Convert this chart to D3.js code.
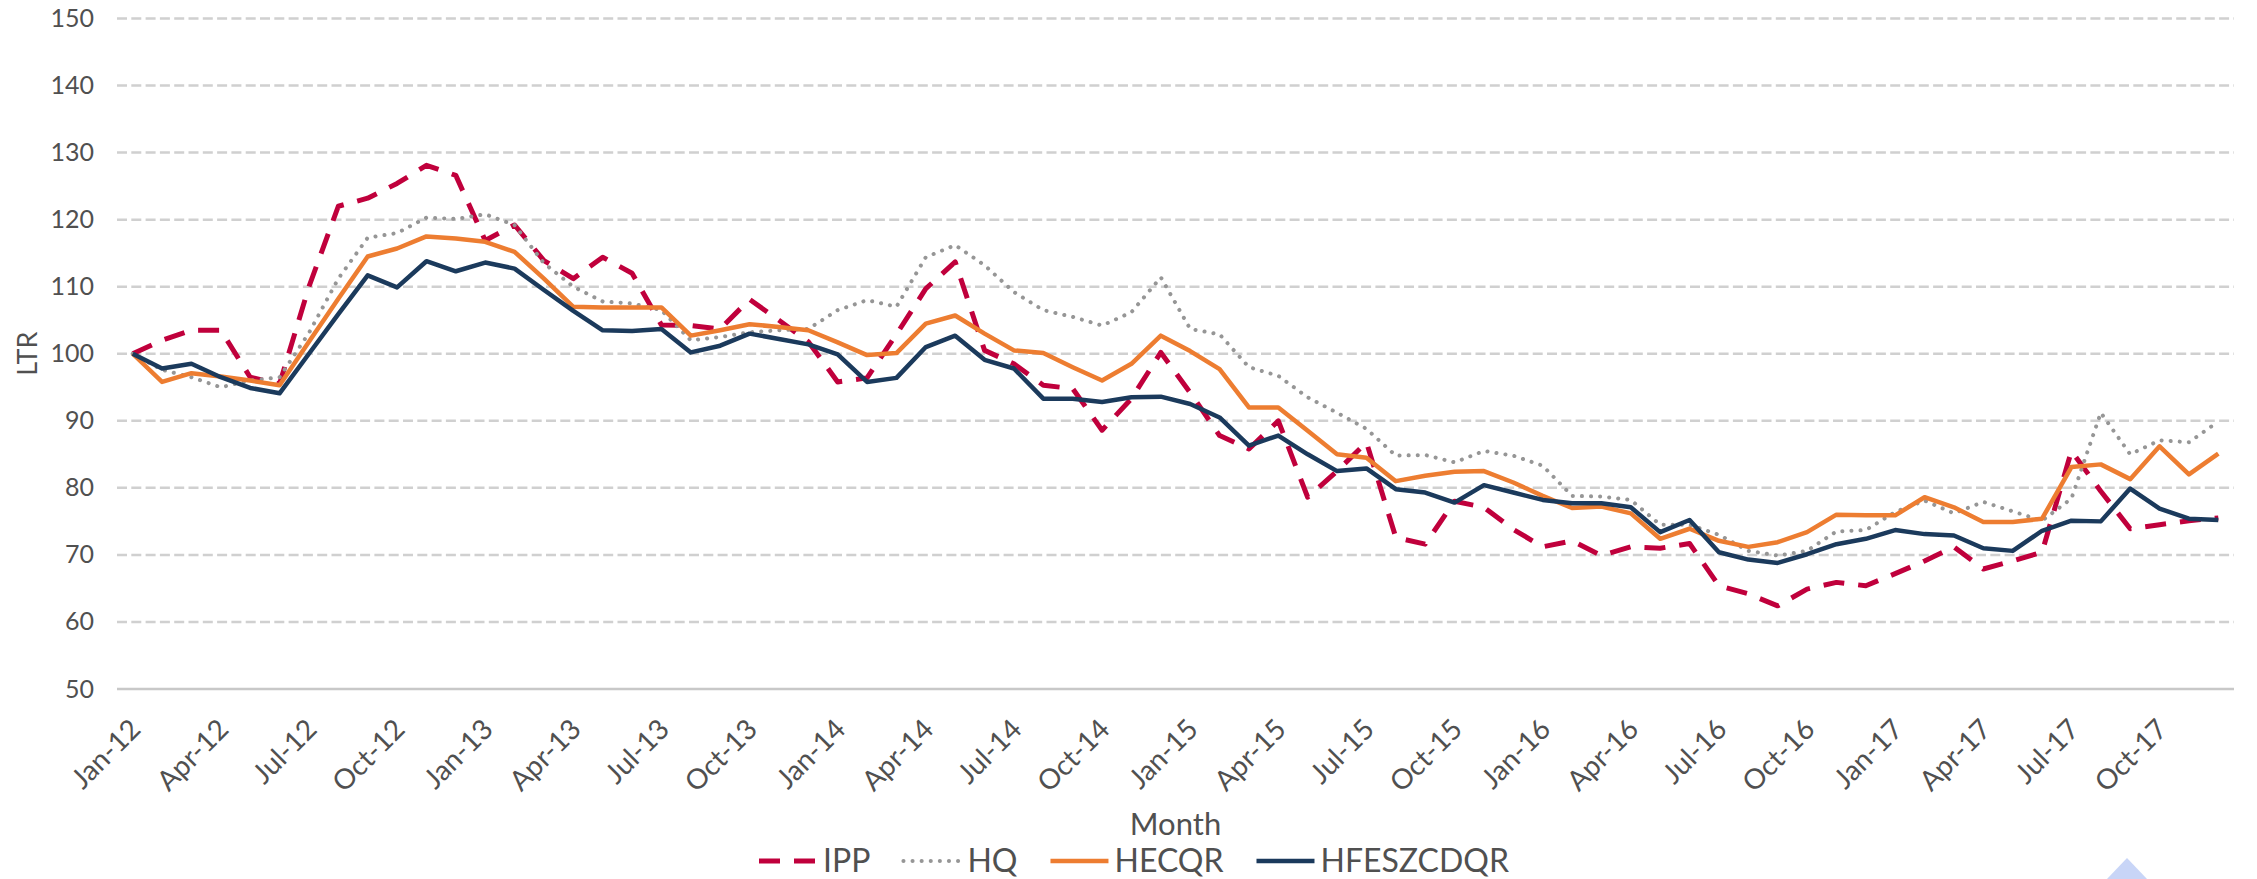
<!DOCTYPE html>
<html>
<head>
<meta charset="utf-8">
<script src="https://cdnjs.cloudflare.com/ajax/libs/d3/7.8.5/d3.min.js"></script>
<style>
  body { margin: 0; background: #fff; }
  svg text { font-family: Lato, "Open Sans", sans-serif; fill: #505050; }
</style>
</head>
<body>
<svg id="chart" width="2257" height="879"></svg>
<script>
var monthNames = ['Jan', 'Feb', 'Mar', 'Apr', 'May', 'Jun', 'Jul', 'Aug', 'Sep', 'Oct', 'Nov', 'Dec'];
var years = ['12', '13', '14', '15', '16', '17'];
var months = [];
years.forEach(function(y) {
    monthNames.forEach(function(m) { months.push(m + '-' + y); });
});

var ipp = [100, 102, 103.5, 103.5, 96.5, 95.5, 110, 122, 123.2, 125.4, 128.1, 126.6,
    116.9, 119.2, 113.9, 111.2, 114.4, 112, 104.3, 104.2, 103.7, 108.1, 105, 101.8,
    95.8, 96.4, 102.9, 109.7, 113.7, 100.5, 98.5, 95.3, 94.8, 88.6, 93.3, 100.2,
    94.2, 87.8, 85.8, 90, 78.6, 82.5, 86.8, 72.6, 71.6, 78, 77.1, 73.8,
    71.2, 72.1, 69.9, 71.2, 71, 71.7, 65.4, 64.2, 62.4, 64.9, 65.9, 65.4,
    67.2, 69.1, 71.2, 67.9, 69.1, 70.4, 85.5, 79.5, 73.9, 74.5, 75.1, 75.5];

var hq = [100, 97.6, 96.5, 95, 96, 96.5, 103.1, 111.2, 117.3, 118, 120.3, 120.1,
    120.8, 119.2, 113.5, 110, 107.8, 107.5, 106.5, 102, 102.5, 103.2, 103.5, 103.7,
    106.5, 108, 107, 114.4, 116.2, 113.2, 109.2, 106.5, 105.5, 104.2, 106.2, 111.4,
    103.7, 102.9, 98, 96.7, 93.5, 91.2, 88.8, 84.8, 84.9, 83.8, 85.5, 84.8,
    83.3, 78.8, 78.7, 78.2, 74.5, 74.5, 73, 70.6, 69.9, 70.6, 73.5, 73.7,
    76.4, 78.1, 76.2, 77.9, 76.5, 75.1, 78.4, 91.2, 85, 87.1, 86.8, 89.9];

var hecqr = [100, 95.8, 97.1, 96.6, 96, 95.3, 101.8, 108.2, 114.5, 115.7, 117.5, 117.2,
    116.7, 115.2, 111.2, 107, 106.9, 106.9, 106.9, 102.7, 103.5, 104.4, 104, 103.5,
    101.7, 99.8, 100.1, 104.5, 105.7, 103, 100.5, 100.1, 98, 96, 98.5, 102.7,
    100.4, 97.7, 92, 92, 88.5, 85, 84.5, 81, 81.8, 82.4, 82.5, 80.8,
    78.8, 77, 77.2, 76.2, 72.4, 73.9, 72.1, 71.2, 71.9, 73.4, 76, 75.9,
    75.9, 78.6, 77.1, 74.9, 74.9, 75.4, 83.1, 83.5, 81.3, 86.2, 82, 85.1];

var hfeszcdqr = [100, 97.8, 98.5, 96.5, 94.9, 94.1, 100, 105.9, 111.7, 109.9, 113.8, 112.3,
    113.6, 112.7, 109.5, 106.4, 103.5, 103.4, 103.7, 100.2, 101.2, 103, 102.2, 101.4,
    99.9, 95.8, 96.4, 101, 102.7, 99.1, 97.8, 93.3, 93.3, 92.8, 93.5, 93.6,
    92.5, 90.5, 86.3, 87.8, 85, 82.5, 82.9, 79.8, 79.3, 77.8, 80.4, 79.3,
    78.2, 77.7, 77.7, 77.1, 73.4, 75.2, 70.4, 69.3, 68.8, 70.1, 71.6, 72.4,
    73.7, 73.1, 72.9, 71, 70.6, 73.6, 75.1, 75, 79.9, 76.9, 75.4, 75.2];

var yTicks = [50, 60, 70, 80, 90, 100, 110, 120, 130, 140, 150];
var seriesNames = ['IPP', 'HQ', 'HECQR', 'HFESZCDQR'];
var seriesValues = [ipp, hq, hecqr, hfeszcdqr];

var styles = {
    'IPP': {color: '#C0003C', width: 5, dash: '21,14', cap: 'butt'},
    'HQ': {color: '#969696', width: 4, dash: '0.1,9', cap: 'round'},
    'HECQR': {color: '#ED7D31', width: 4.5, dash: null, cap: 'butt'},
    'HFESZCDQR': {color: '#1B3A5C', width: 4.5, dash: null, cap: 'butt'}
};

var svg = d3.select('#chart');
var plot = {l: 118, r: 2233, t: 18.5, b: 689};

var xScale = d3.scalePoint()
    .domain(months)
    .range([plot.l, plot.r])
    .padding(0.5);

var yScale = d3.scaleLinear()
    .domain([50, 150])
    .range([plot.b, plot.t]);

// dashed gridlines
svg.append('g')
    .selectAll('line')
    .data(yTicks.slice(1))
    .enter()
    .append('line')
    .attr('x1', plot.l - 1)
    .attr('x2', plot.r + 1)
    .attr('y1', function(d) { return yScale(d); })
    .attr('y2', function(d) { return yScale(d); })
    .attr('stroke', '#d0d0d0')
    .attr('stroke-width', 2.5)
    .attr('stroke-dasharray', '10,4.3');

// base line at 50
svg.append('line')
    .attr('x1', plot.l - 1)
    .attr('x2', plot.r + 1)
    .attr('y1', yScale(50))
    .attr('y2', yScale(50))
    .attr('stroke', '#c8c8c8')
    .attr('stroke-width', 2.5);

var yAxis = svg.append('g')
    .attr('transform', 'translate(' + plot.l + ',0)')
    .call(d3.axisLeft(yScale).tickValues(yTicks).tickSize(0).tickPadding(24));
yAxis.select('.domain').remove();
yAxis.selectAll('text')
    .style('font-size', '25px')
    .style('font-family', 'Lato, sans-serif')
    .attr('fill', '#505050');

var xAxis = svg.append('g')
    .attr('transform', 'translate(0,' + plot.b + ')')
    .call(d3.axisBottom(xScale)
        .tickValues(months.filter(function(d, i) { return i % 3 == 0; }))
        .tickSize(0));
xAxis.select('.domain').remove();
xAxis.selectAll('text')
    .attr('x', 0)
    .attr('y', 0)
    .attr('dy', 0)
    .attr('text-anchor', 'end')
    .attr('transform', 'translate(9,42) rotate(-45)')
    .style('font-size', '28px')
    .style('font-family', 'Lato, sans-serif')
    .attr('fill', '#505050');

svg.append('text')
    .attr('transform', 'translate(37,' + ((plot.t + plot.b) / 2) + ') rotate(-90)')
    .attr('text-anchor', 'middle')
    .style('font-size', '27px')
    .text('LTR');

svg.append('text')
    .attr('x', (plot.l + plot.r) / 2)
    .attr('y', 835)
    .attr('text-anchor', 'middle')
    .style('font-size', '31px')
    .text('Month');

var line = d3.line()
    .x(function(d, i) { return xScale(months[i]); })
    .y(function(d) { return yScale(d); });

seriesNames.forEach(function(name, k) {
    var s = styles[name];
    svg.append('path')
        .datum(seriesValues[k])
        .attr('d', line)
        .attr('fill', 'none')
        .attr('stroke', s.color)
        .attr('stroke-width', s.width)
        .attr('stroke-linejoin', 'round')
        .attr('stroke-linecap', s.cap)
        .attr('stroke-dasharray', s.dash);
});

// legend
var legend = svg.append('g').attr('transform', 'translate(759,861)');
var lx = 0;
seriesNames.forEach(function(name) {
    var s = styles[name];
    legend.append('line')
        .attr('x1', lx)
        .attr('x2', lx + 58)
        .attr('y1', 0)
        .attr('y2', 0)
        .attr('stroke', s.color)
        .attr('stroke-width', s.width)
        .attr('stroke-linecap', s.cap)
        .attr('stroke-dasharray', s.dash);
    var t = legend.append('text')
        .attr('x', lx + 64)
        .attr('y', 11)
        .style('font-size', '32px')
        .text(name);
    lx = lx + 64 + t.node().getComputedTextLength() + 33;
});

// light blue corner marker seen in the source image
svg.append('path')
    .attr('d', 'M2107,879 L2127,858 L2147,879 Z')
    .attr('fill', '#c8d5f7');
</script>
</body>
</html>
